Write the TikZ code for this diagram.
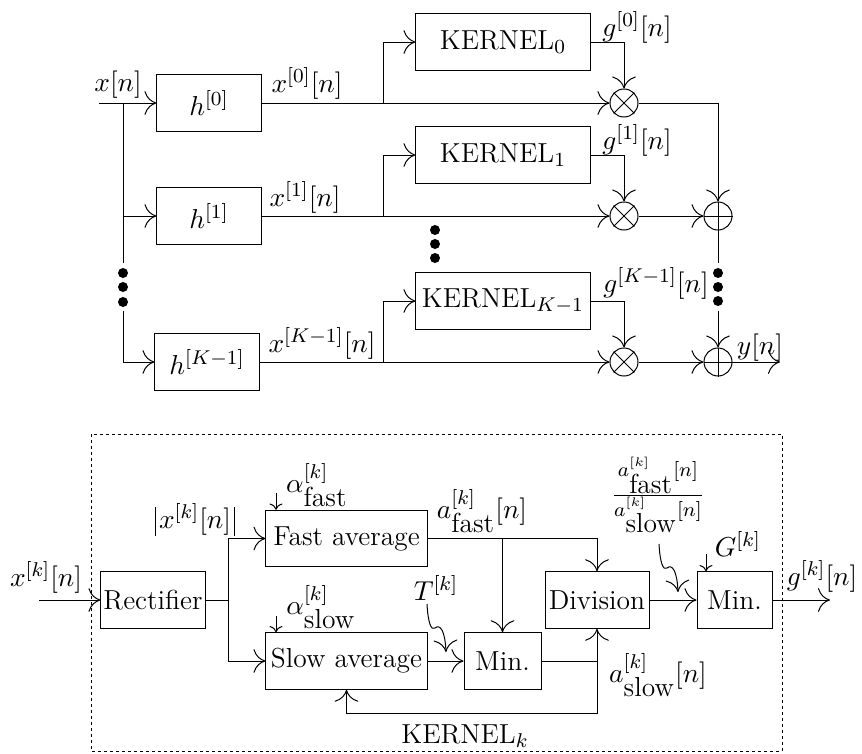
\documentclass[tikz,border=0pt]{standalone}
\usetikzlibrary{arrows.meta}
\newcommand{\mybar}{\kern1.4pt\rule[-3.2pt]{0.3pt}{11.8pt}\kern1.4pt}
\begin{document}
\begin{tikzpicture}[x=0.4pt,y=-0.4pt,
  every node/.style={font=\fontsize{11}{13}\selectfont},
  >={To[length=4.8pt,width=9.5pt]},
  blk/.style={draw, inner sep=0pt, minimum width=#1, minimum height=22.6pt},
  circ/.style={draw, circle, inner sep=0pt, minimum size=11.2pt},
  lbl/.style={inner sep=0pt, anchor=base},
  clbl/.style={inner sep=0pt, anchor=center},
  dotbox/.style={dash pattern=on 1.2pt off 1.2pt},
  smallarr/.style={-{To}}
]
\useasboundingbox (0,0) rectangle (862,754);

% ---------------- top part ----------------
\node[blk=41.6pt] (h0) at (209,103) {$h^{[0]}$};
\node[blk=41.6pt] (h1) at (209,216) {$h^{[1]}$};
\node[blk=41.6pt] (hK) at (207,362) {$h^{[K-1]}$};
\node[blk=69.6pt] (K0) at (503,42) {KERNEL$_0$};
\node[blk=69.6pt] (K1) at (503,155) {KERNEL$_1$};
\node[blk=69.6pt] (KK) at (503,301) {KERNEL$_{K-1}$};
\node[circ] (m0) at (624,103) {};
\node[circ] (m1) at (624,216) {};
\node[circ] (mK) at (624,362) {};
\node[circ] (a1) at (718,216) {};
\node[circ] (aK) at (718,362) {};
\foreach \n in {m0,m1,mK} \draw (\n.45) -- (\n.225) (\n.135) -- (\n.315);
\foreach \n in {a1,aK} \draw (\n.north) -- (\n.south) (\n.east) -- (\n.west);

\coordinate (xin) at (99,103);
\coordinate (j0) at (123,103);
\coordinate (j1) at (123,216);
\coordinate (jKa) at (123,263);
\coordinate (jKb) at (123,311);
\coordinate (jK) at (123,362);
\draw[->] (xin) -- (h0);
\draw (j0) -- (jKa);
\draw[->] (j1) -- (h1);
\draw (jKb) -- (jK);
\draw[->] (jK) -- (hK);
\foreach \y in {273,287,302} \fill (123,\y) circle (2pt);

\coordinate (b0) at (383,103);
\coordinate (b1) at (383,216);
\coordinate (bK) at (383,362);
\draw[->] (h0) -- (m0);
\draw[->] (b0) |- (K0.west);
\draw[->] (K0.east) -| (m0.north);
\draw[->] (h1) -- (m1);
\draw[->] (b1) |- (K1.west);
\draw[->] (K1.east) -| (m1.north);
\draw[->] (hK) -- (mK);
\draw[->] (bK) |- (KK.west);
\draw[->] (KK.east) -| (mK.north);
\draw[->] (m0.east) -| (a1.north);
\draw[->] (m1) -- (a1);
\draw[->] (mK) -- (aK);
\coordinate (sa) at (718,263);
\coordinate (sb) at (718,311);
\draw (a1.south) -- (sa);
\draw[->] (sb) -- (aK.north);
\foreach \y in {273,287,301} \fill (718,\y) circle (2pt);
\foreach \y in {230,244,258} \fill (435,\y) circle (2pt);
\coordinate (yout) at (780,362);
\draw[->] (aK) -- (yout);

\node[lbl] (lx) at (118,91) {$x[n]$};
\node[lbl] (lx0) at (307,92) {$x^{[0]}[n]$};
\node[lbl] (lx1) at (305,206) {$x^{[1]}[n]$};
\node[lbl] (lxK) at (322,352) {$x^{[K-1]}[n]$};
\node[lbl] (lg0) at (637,36) {$g^{[0]}[n]$};
\node[lbl] (lg1) at (637,149) {$g^{[1]}[n]$};
\node[lbl] (lgK) at (656,292) {$g^{[K-1]}[n]$};
\node[lbl] (ly) at (760,354) {$y[n]$};

% ---------------- bottom part ----------------
\draw[dotbox] (91,434) rectangle (782,751);
\node[blk=41.6pt] (rect) at (153,600) {Rectifier};
\node[blk=64.4pt] (fast) at (346.5,538.5) {Fast average};
\node[blk=64.4pt] (slow) at (346.5,661) {Slow average};
\node[blk=30.8pt] (min1) at (502.5,661) {Min.};
\node[blk=41.6pt] (div) at (597,600) {Division};
\node[blk=30pt] (min2) at (734.5,600) {Min.};

\coordinate (kin) at (39,600);
\coordinate (rj) at (228,600);
\coordinate (kout) at (830,600);
\draw[->] (kin) -- (rect);
\draw (rect.east) -- (rj);
\draw[->] (rj) |- (fast.west);
\draw[->] (rj) |- (slow.west);
\draw[->] (fast.east) -| (div.north);
\draw[->] (min1.north |- fast.east) -- (min1.north);
\draw[->] (slow) -- (min1);
\coordinate (dj) at (div.south |- min1.east);
\coordinate (fb) at (597,713);
\draw[->] (min1.east) -- (dj) -- (div.south);
\draw[->] (dj) -- (fb) -| (slow.south);
\draw[->] (div) -- (min2);
\draw[->] (min2) -- (kout);

\coordinate (af1) at (276,493);
\coordinate (as1) at (276,616);
\coordinate (g1) at (706,554);
\draw[smallarr] (af1) -- (fast.north -| af1);
\draw[smallarr] (as1) -- (slow.north -| as1);
\draw[smallarr] (g1) -- (min2.north -| g1);

\coordinate (t0) at (427,604);
\coordinate (t1) at (446,652);
\draw[->] (t0) .. controls (428,622) and (431,631) .. (435,628)
  .. controls (440,624) and (445,630) .. (t1);
\coordinate (q0) at (659,544);
\coordinate (q1) at (678,592);
\draw[->] (q0) .. controls (660,562) and (663,571) .. (667,568)
  .. controls (672,564) and (677,570) .. (q1);

\node[lbl] (lxk) at (46,586) {$x^{[k]}[n]$};
\node[lbl] (labs) at (195,528) {$\mybar x^{[k]}[n]\mybar$};
\node[clbl] (laf) at (317,485) {$\alpha^{[k]}_{\mbox{fast}}$};
\node[clbl] (las) at (321,607) {$\alpha^{[k]}_{\mbox{slow}}$};
\node[clbl] (lT) at (436,588) {$T^{[k]}$};
\node[clbl] (lafn) at (482,511) {$a^{[k]}_{\mbox{fast}}[n]$};
\node[clbl] (lfrac) at (658,495) {$\frac{a^{[k]}_{\mbox{fast}}[n]}{a^{[k]}_{\mbox{slow}}[n]}$};
\node[clbl] (lG) at (738,544) {$G^{[k]}$};
\node[clbl] (lasn) at (658,675) {$a^{[k]}_{\mbox{slow}}[n]$};
\node[clbl] (lgk) at (822,576) {$g^{[k]}[n]$};
\node[clbl] (lK) at (465,736) {KERNEL$_k$};
\end{tikzpicture}
\end{document}
